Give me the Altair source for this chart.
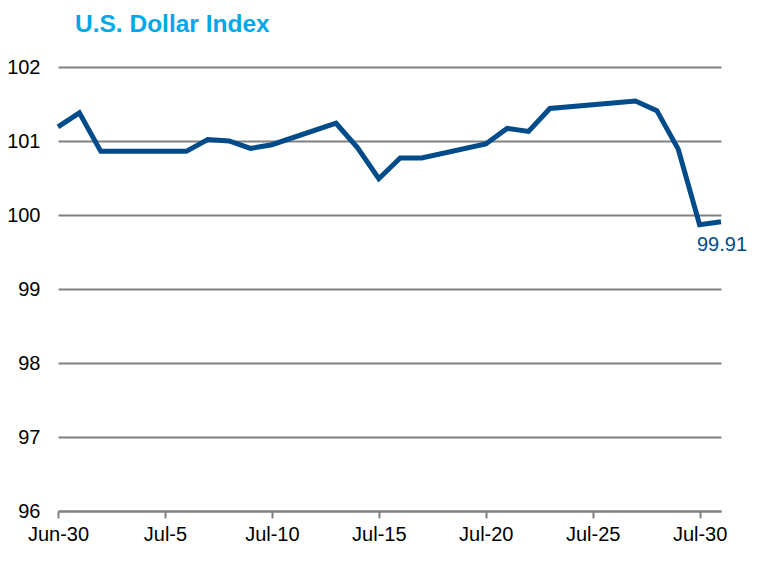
import altair as alt
import pandas as pd

dates = ["2020-06-30", "2020-07-01", "2020-07-02", "2020-07-06", "2020-07-07",
         "2020-07-08", "2020-07-09", "2020-07-10", "2020-07-13", "2020-07-14",
         "2020-07-15", "2020-07-16", "2020-07-17", "2020-07-20", "2020-07-21",
         "2020-07-22", "2020-07-23", "2020-07-27", "2020-07-28", "2020-07-29",
         "2020-07-30", "2020-07-31"]
values = [101.19, 101.38, 100.86, 100.86, 101.02,
          101.00, 100.90, 100.95, 101.24, 100.91,
          100.49, 100.77, 100.77, 100.96, 101.17,
          101.13, 101.44, 101.54, 101.41, 100.89,
          99.87, 99.91]
tick_days = [(6, 30), (7, 5), (7, 10), (7, 15), (7, 20), (7, 25), (7, 30)]
y_ticks = [96, 97, 98, 99, 100, 101, 102]

LINE = "#004C8A"
FONT = "Liberation Sans"

df = pd.DataFrame({"date": dates, "value": values})
last = pd.DataFrame({"date": [dates[-1]], "value": [values[-1]]})

x_enc = alt.X(
    "date:T",
    scale=alt.Scale(type="utc", domain=[alt.DateTime(year=2020, month=6, date=30, utc=True),
                                        alt.DateTime(year=2020, month=7, date=31, utc=True)]),
    axis=alt.Axis(
        title=None,
        values=[alt.DateTime(year=2020, month=m, date=d, utc=True) for m, d in tick_days],
        labelExpr="utcFormat(datum.value, '%b') + '-' + utcdate(datum.value)",
        grid=False,
        domainColor="#808080", domainWidth=2,
        tickColor="#808080", tickWidth=2, tickSize=7,
        labelFont=FONT, labelFontSize=20, labelColor="#000000",
        labelPadding=6, labelFlush=False, labelOverlap=False,
    ),
)
y_enc = alt.Y(
    "value:Q",
    scale=alt.Scale(domain=[96, 102], nice=False, zero=False),
    axis=alt.Axis(
        title=None, values=y_ticks, format="d",
        domain=False, ticks=False,
        grid=True, gridColor="#808080", gridWidth=2,
        labelFont=FONT, labelFontSize=20, labelColor="#000000",
        labelPadding=18,
    ),
)

line = alt.Chart(df).mark_line(color=LINE, strokeWidth=5, strokeJoin="miter").encode(x=x_enc, y=y_enc)

label = alt.Chart(last).mark_text(
    color=LINE, font=FONT, fontSize=20, align="center", baseline="alphabetic", dx=1, dy=29
).encode(x=x_enc, y=y_enc, text=alt.Text("value:Q", format=".2f"))

chart = alt.layer(line, label).properties(
    width=663, height=444,
    title=alt.TitleParams(
        "U.S. Dollar Index", anchor="start", frame="group", dx=17,
        font=FONT, fontSize=24.5, fontWeight="bold", color="#00A8E8",
        baseline="top", offset=20,
    ),
    autosize=alt.AutoSizeParams(type="none"),
    padding={"left": 50, "top": 59, "right": 45, "bottom": 40},
).configure_view(stroke=None)

chart.save("out.html", embed_options={"renderer": "svg", "actions": False})
